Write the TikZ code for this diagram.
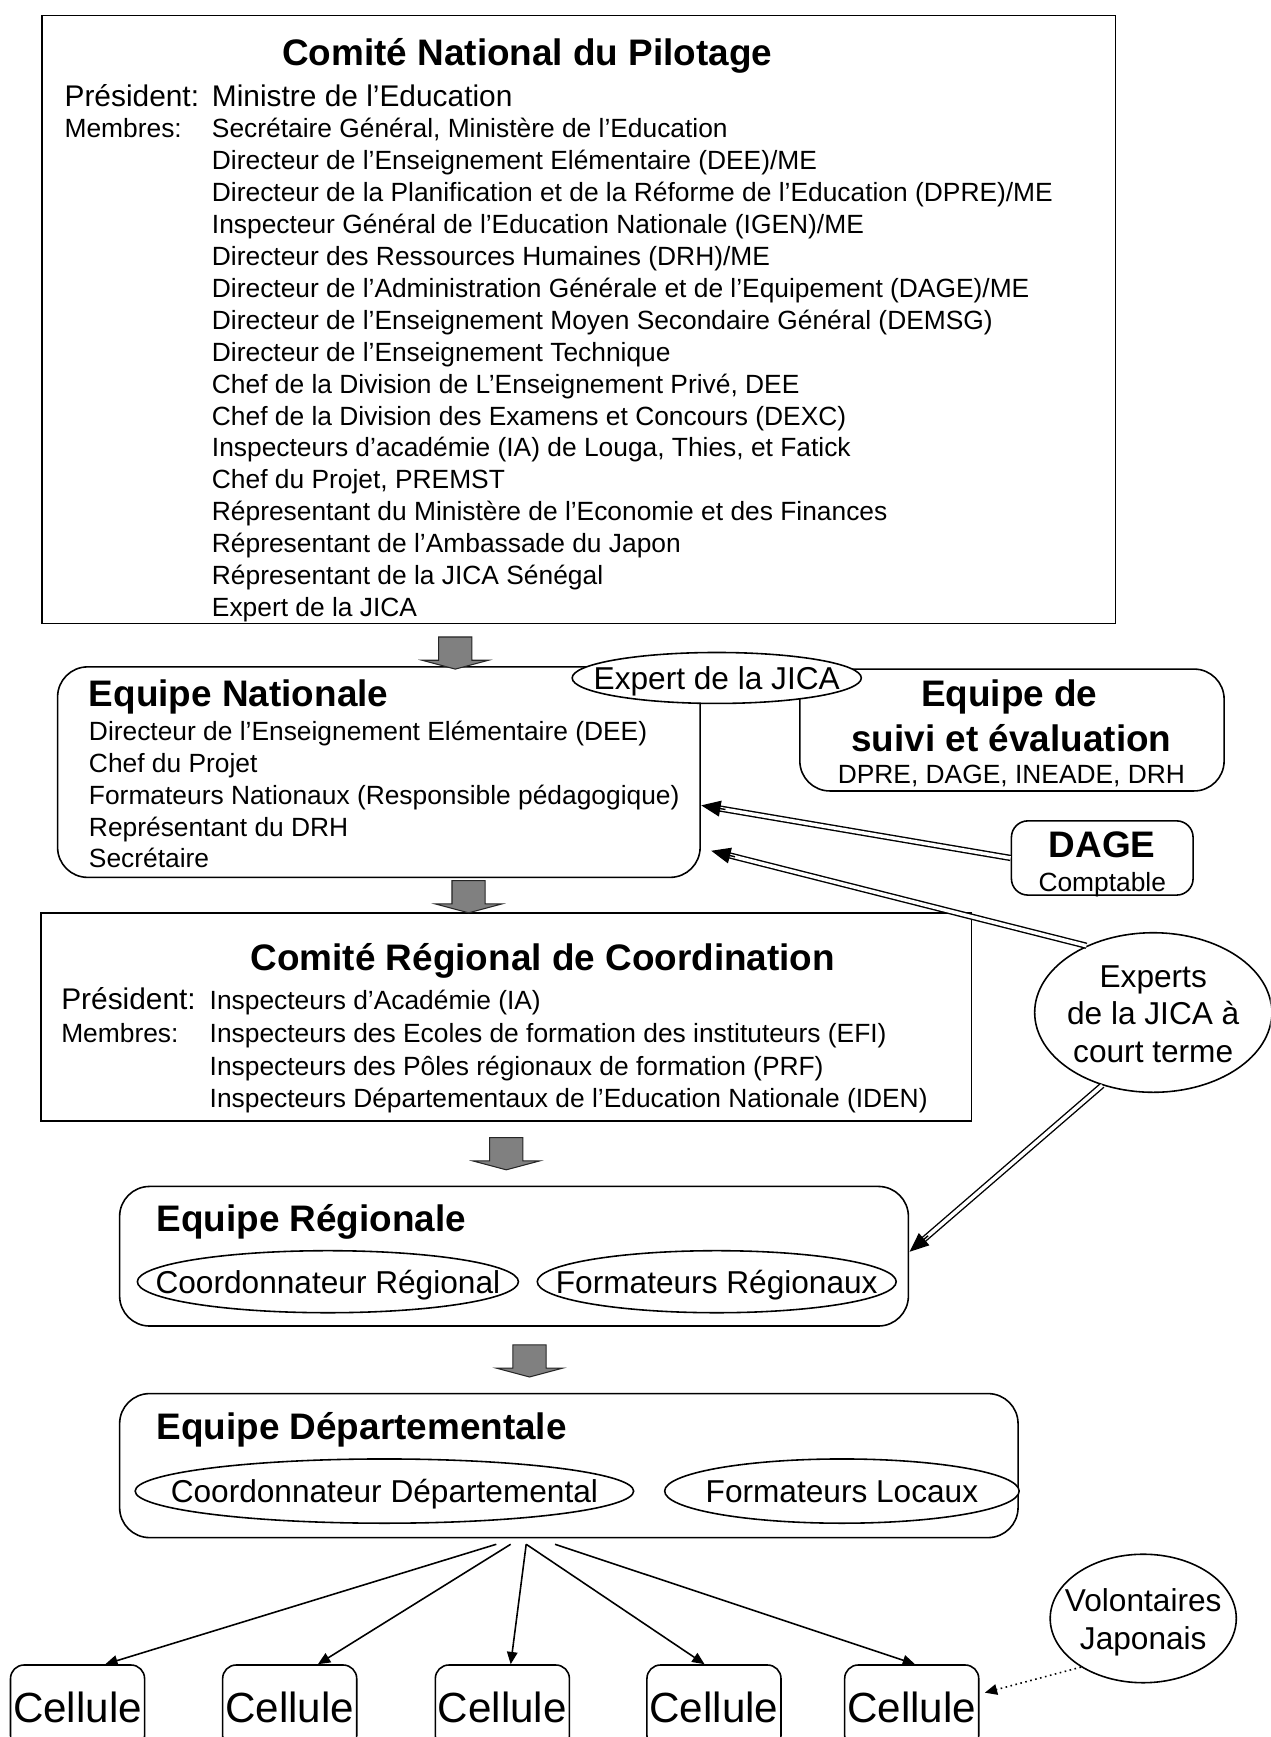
\documentclass[tikz,border=0pt]{standalone}
\usepackage{fontspec}
\setmainfont{Liberation Sans}
\usetikzlibrary{shapes.geometric,arrows.meta,calc}

\newcommand\pxu{0.02216cm}
\newcommand\ovtxt[1]{\makebox[0pt]{\raisebox{-2.6pt}[\height][\depth]{#1}}}

\tikzset{
  boite/.style={draw, line width=0.9pt, inner sep=0pt},
  ronde/.style={boite, rounded corners=0.6cm},
  titre/.style={font=\fontsize{21}{25}\selectfont\bfseries, inner sep=0pt, anchor=base},
  ligne/.style={font=\fontsize{15}{18}\selectfont, inner sep=0pt, anchor=base west},
  grand/.style={font=\fontsize{17}{20}\selectfont, inner sep=0pt, anchor=base west},
  oval/.style={ellipse, draw, fill=white, line width=0.9pt, inner sep=0pt, font=\fontsize{18}{21.4}\selectfont},
  oval1/.style={oval, text height=13pt, text depth=0pt},
  cellbox/.style={boite, rounded corners=0.27cm, minimum width=121*\pxu, minimum height=76*\pxu, font=\fontsize{24}{28}\selectfont},
  flecheG/.pic={\draw[line width=0.6pt, draw=black!85, fill=black!50] (-15,-29) -- (15,-29) -- (15,-8) -- (30,-8) -- (0,0) -- (-30,-8) -- (-15,-8) -- cycle;},
  dline/.style={double, double distance=2pt, line width=0.8pt, shorten >=10pt},
  dtip/.style={-{Triangle[length=11pt,width=9pt]}, line width=0.8pt},
  fan/.style={-{Triangle[length=7pt,width=6pt]}, line width=0.9pt}
}

\begin{document}
\begin{tikzpicture}[x=\pxu, y=-\pxu]
    \useasboundingbox (0,0) rectangle (1147,1568);
    \clip (0,0) rectangle (1147,1568);
    %% Comite National du Pilotage
    \node[boite, minimum width=969*\pxu, minimum height=549*\pxu] (cnp) at (522.5,288.5) {};
    \node[titre] (cnpT) at (476,59) {Comité National du Pilotage};
    \node[grand] (cnpP) at (58,96) {Président:};
    \node[grand] (cnpPv) at (191,96) {Ministre de l'Education};
    \node[ligne] (cnpM) at (58,124.5) {Membres:};
    \foreach \txt [count=\i from 0] in {{Secrétaire Général, Ministère de l'Education},
        Directeur de l'Enseignement Elémentaire (DEE)/ME,
        Directeur de la Planification et de la Réforme de l'Education (DPRE)/ME,
        Inspecteur Général de l'Education Nationale (IGEN)/ME,
        Directeur des Ressources Humaines (DRH)/ME,
        Directeur de l'Administration Générale et de l'Equipement (DAGE)/ME,
        Directeur de l'Enseignement Moyen Secondaire Général (DEMSG),
        Directeur de l'Enseignement Technique,
        {Chef de la Division de L'Enseignement Privé, DEE},
        Chef de la Division des Examens et Concours (DEXC),
        {Inspecteurs d'académie (IA) de Louga, Thies, et Fatick},
        {Chef du Projet, PREMST},
        Répresentant du Ministère de l'Economie et des Finances,
        Répresentant de l'Ambassade du Japon,
        Répresentant de la JICA Sénégal,
        Expert de la JICA}
      \node[ligne] (cnpL\i) at (191,124.5+28.8*\i) {\txt};

    %% Equipe Nationale et suivi
    \node[ronde, minimum width=580*\pxu, minimum height=190*\pxu] (en) at (342,697) {};
    \node[titre, anchor=base west] (enT) at (80,638) {Equipe Nationale};
    \foreach \txt [count=\i from 0] in {Directeur de l'Enseignement Elémentaire (DEE),
        Chef du Projet,
        Formateurs Nationaux (Responsible pédagogique),
        Représentant du DRH,
        Secrétaire}
      \node[ligne] (enL\i) at (80,668.5+28.75*\i) {\txt};
    \node[ronde, minimum width=383*\pxu, minimum height=110*\pxu] (suivi) at (913.5,659) {};
    \node[titre] (suiviT1) at (911,638) {Equipe de};
    \node[titre] (suiviT2) at (913,678) {suivi et évaluation};
    \node[ligne, anchor=base] (suiviL) at (913,707.5) {DPRE, DAGE, INEADE, DRH};
    \node[oval1, minimum width=261*\pxu, minimum height=46*\pxu] (jica) at (647,612) {\makebox[0pt]{Expert de la JICA}};

    %% DAGE
    \node[boite, rounded corners=0.33cm, minimum width=164*\pxu, minimum height=67*\pxu] (dage) at (995,774.5) {};
    \node[titre] (dageT) at (995,774) {DAGE};
    \node[ligne, anchor=base] (dageL) at (995,804.5) {Comptable};

    %% Comite Regional de Coordination
    \node[boite, minimum width=840*\pxu, minimum height=188*\pxu] (crc) at (457,918) {};
    \node[titre] (crcT) at (490,876) {Comité Régional de Coordination};
    \node[grand] (crcP) at (55,911.5) {Président:};
    \node[ligne] (crcPv) at (189,911.5) {Inspecteurs d'Académie (IA)};
    \node[ligne] (crcM) at (55,941.5) {Membres:};
    \foreach \txt [count=\i from 0] in {Inspecteurs des Ecoles de formation des instituteurs (EFI),
        Inspecteurs des Pôles régionaux de formation (PRF),
        Inspecteurs Départementaux de l'Education Nationale (IDEN)}
      \node[ligne] (crcL\i) at (189,941.5+29*\i) {\txt};

    %% experts a court terme
    \node[oval, minimum width=214*\pxu, minimum height=144*\pxu] (experts) at (1041,914)
      {\ovtxt{\begin{tabular}{@{}c@{}}Experts\\de la JICA à\\court terme\end{tabular}}};

    %% Equipe Regionale
    \node[ronde, minimum width=712*\pxu, minimum height=126*\pxu] (er) at (464,1134) {};
    \node[titre, anchor=base west] (erT) at (141,1112) {Equipe Régionale};
    \node[oval1, minimum width=344*\pxu, minimum height=56*\pxu] (cr) at (296,1157) {\makebox[0pt]{Coordonnateur Régional}};
    \node[oval1, minimum width=324*\pxu, minimum height=56*\pxu] (fr) at (647,1157) {\makebox[0pt]{Formateurs Régionaux}};

    %% Equipe Departementale
    \node[ronde, minimum width=811*\pxu, minimum height=130*\pxu] (ed) at (513.5,1323) {};
    \node[titre, anchor=base west] (edT) at (141,1299) {Equipe Départementale};
    \node[oval1, minimum width=450*\pxu, minimum height=58*\pxu] (cd) at (347,1346) {\makebox[0pt]{Coordonnateur Départemental}};
    \node[oval1, minimum width=320*\pxu, minimum height=58*\pxu] (fl) at (760,1346) {\makebox[0pt]{Formateurs Locaux}};

    %% cellules et volontaires
    \foreach \x [count=\i] in {70,261.5,453.5,644.5,823}
      \node[cellbox] (cel\i) at (\x,1541) {Cellule};
    \node[oval, minimum width=168*\pxu, minimum height=116*\pxu] (vol) at (1032,1461)
      {\ovtxt{\begin{tabular}{@{}c@{}}Volontaires\\Japonais\end{tabular}}};

    %% fleches grises
    \pic at (411,604) {flecheG};
    \pic at (423,824) {flecheG};
    \pic at (457,1056) {flecheG};
    \pic at (478,1243) {flecheG};

    %% fleches doubles
    \coordinate (enIn1) at (633,727);
    \coordinate (enIn2) at (642,768);
    \coordinate (erIn) at (821,1130);
    \draw[dline] (dage.west) -- (enIn1);
    \draw[dtip] ($(enIn1)!14pt!(dage.west)$) -- (enIn1);
    \draw[dline] (experts.135) -- (enIn2);
    \draw[dtip] ($(enIn2)!14pt!(experts.135)$) -- (enIn2);
    \draw[dline] (experts.235) -- (erIn);
    \draw[dtip] ($(erIn)!14pt!(experts.235)$) -- (erIn);

    %% vers les cellules
    \coordinate (fan1) at (448,1394);
    \coordinate (fan2) at (461,1394);
    \coordinate (fan3) at (475,1394);
    \coordinate (fan5) at (501,1394);
    \draw[fan] (fan1) -- ($(cel1.north)+(25,0)$);
    \draw[fan] (fan2) -- ($(cel2.north)+(25.5,0)$);
    \draw[fan] (fan3) -- ($(cel3.north)+(7.5,0)$);
    \draw[fan] (fan3) -- ($(cel4.north)+(-8.5,0)$);
    \draw[fan] (fan5) -- ($(cel5.north)+(3,0)$);
    \coordinate (celIn) at (889,1528);
    \draw[fan, dotted] (vol.218) -- (celIn);
\end{tikzpicture}
\end{document}
